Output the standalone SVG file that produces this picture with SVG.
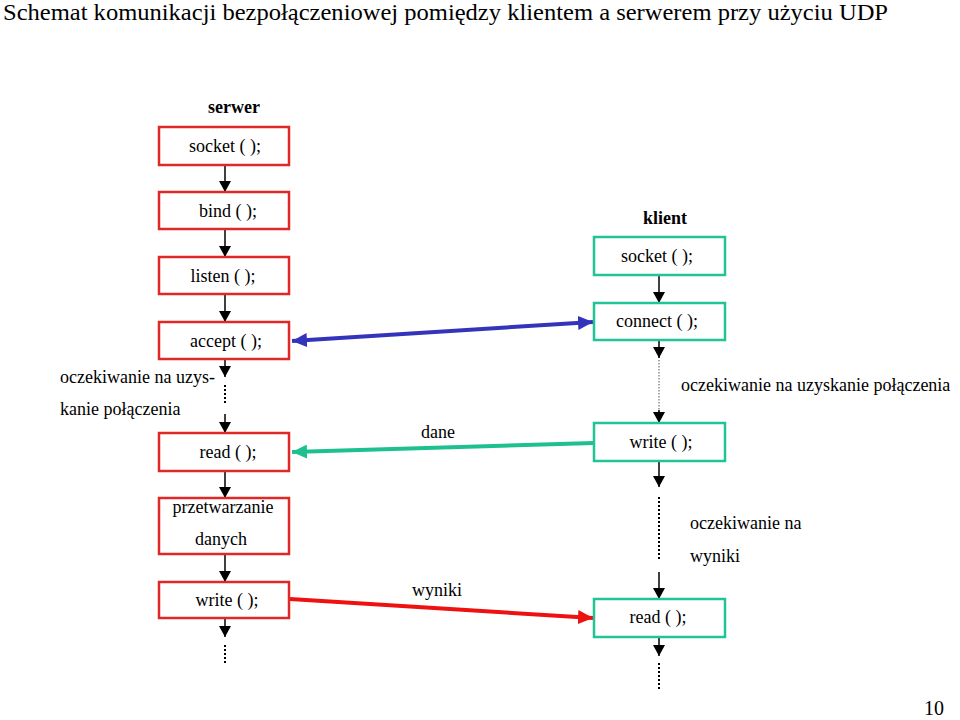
<svg xmlns="http://www.w3.org/2000/svg" width="960" height="720" viewBox="0 0 960 720" font-family="'Liberation Serif', 'DejaVu Serif', serif">
<defs>
<style>
text{font-family:'Liberation Serif','DejaVu Serif',serif;fill:#000}
.t{font-size:18px;text-anchor:middle}
.l{font-size:18px}
.h{font-size:18px;font-weight:bold;text-anchor:middle}
.sb{fill:#fff;stroke:#e02828;stroke-width:2.5}
.cb{fill:#fff;stroke:#22c495;stroke-width:2.5}
.f{stroke:#000;stroke-width:1.5;fill:none}
.d{stroke:#000;stroke-width:2;stroke-dasharray:2 2;fill:none}
.dt{stroke:#555;stroke-width:1;stroke-dasharray:1.5 1.5;fill:none}
</style>
<marker id="ab" markerUnits="userSpaceOnUse" markerWidth="12" markerHeight="12" refX="11" refY="6" orient="auto"><path d="M0,0 L11,6 L0,12 Z" fill="#000"/></marker>
<marker id="mblue" markerUnits="userSpaceOnUse" markerWidth="16" markerHeight="14" refX="15" refY="7" orient="auto-start-reverse"><path d="M0,0 L15,7 L0,14 Z" fill="#3333bb"/></marker>
<marker id="mgreen" markerUnits="userSpaceOnUse" markerWidth="16" markerHeight="14" refX="15" refY="7" orient="auto"><path d="M0,0 L15,7 L0,14 Z" fill="#1fc08f"/></marker>
<marker id="mred" markerUnits="userSpaceOnUse" markerWidth="16" markerHeight="14" refX="15" refY="7" orient="auto"><path d="M0,0 L15,7 L0,14 Z" fill="#ee1111"/></marker>
</defs>
<rect width="960" height="720" fill="#fff"/>
<text x="3" y="20" font-size="24" textLength="885" lengthAdjust="spacingAndGlyphs">Schemat komunikacji bezpołączeniowej pomiędzy klientem a serwerem przy użyciu UDP</text>
<text class="h" x="234" y="113">serwer</text>
<text class="h" x="665" y="224">klient</text>

<g id="connectors">
<line class="f" x1="225" y1="165" x2="225" y2="192" marker-end="url(#ab)"/>
<line class="f" x1="225" y1="229" x2="225" y2="257" marker-end="url(#ab)"/>
<line class="f" x1="225" y1="294" x2="225" y2="322" marker-end="url(#ab)"/>
<line class="f" x1="225" y1="359" x2="225" y2="377" marker-end="url(#ab)"/>
<line class="d" x1="225" y1="385" x2="225" y2="403"/>
<line class="f" x1="225" y1="414" x2="225" y2="433" marker-end="url(#ab)"/>
<line class="f" x1="225" y1="471" x2="225" y2="498" marker-end="url(#ab)"/>
<line class="f" x1="225" y1="554" x2="225" y2="582" marker-end="url(#ab)"/>
<line class="f" x1="225" y1="618" x2="225" y2="637" marker-end="url(#ab)"/>
<line class="d" x1="225" y1="645" x2="225" y2="663"/>

<line class="f" x1="659" y1="275" x2="659" y2="303" marker-end="url(#ab)"/>
<line class="f" x1="659" y1="340" x2="659" y2="358" marker-end="url(#ab)"/>
<line class="dt" x1="659" y1="360" x2="659" y2="412"/>
<line class="f" x1="659" y1="410" x2="659" y2="423" marker-end="url(#ab)"/>
<line class="f" x1="659" y1="461" x2="659" y2="487" marker-end="url(#ab)"/>
<line class="d" x1="659" y1="497" x2="659" y2="560"/>
<line class="f" x1="659" y1="572" x2="659" y2="599" marker-end="url(#ab)"/>
<line class="f" x1="659" y1="637" x2="659" y2="656" marker-end="url(#ab)"/>
<line class="d" x1="659" y1="663" x2="659" y2="690"/>

<line x1="292" y1="341" x2="593" y2="322" stroke="#3333bb" stroke-width="4" marker-start="url(#mblue)" marker-end="url(#mblue)"/>
<line x1="594" y1="443" x2="292" y2="452" stroke="#1fc08f" stroke-width="4" marker-end="url(#mgreen)"/>
<line x1="290" y1="599" x2="593" y2="618" stroke="#ee1111" stroke-width="4" marker-end="url(#mred)"/>
</g>

<g id="s-socket"><rect class="sb" x="159" y="127" width="130" height="38"/><text class="t" x="225" y="152">socket ( );</text></g>
<g id="s-bind"><rect class="sb" x="159" y="192" width="130" height="37"/><text class="t" x="228" y="217">bind ( );</text></g>
<g id="s-listen"><rect class="sb" x="159" y="257" width="130" height="37"/><text class="t" x="223" y="282">listen ( );</text></g>
<g id="s-accept"><rect class="sb" x="159" y="322" width="130" height="37"/><text class="t" x="226" y="347">accept ( );</text></g>
<g id="s-read"><rect class="sb" x="159" y="433" width="130" height="38"/><text class="t" x="228" y="458">read ( );</text></g>
<g id="s-proc"><rect class="sb" x="159" y="498" width="130" height="56"/><text class="t" x="223" y="513">przetwarzanie</text><text class="t" x="221" y="545">danych</text></g>
<g id="s-write"><rect class="sb" x="159" y="582" width="130" height="36"/><text class="t" x="227" y="606">write ( );</text></g>

<g id="c-socket"><rect class="cb" x="594" y="237" width="131" height="38"/><text class="t" x="657" y="262">socket ( );</text></g>
<g id="c-connect"><rect class="cb" x="594" y="303" width="131" height="37"/><text class="t" x="657" y="327">connect ( );</text></g>
<g id="c-write"><rect class="cb" x="594" y="423" width="131" height="38"/><text class="t" x="661" y="448">write ( );</text></g>
<g id="c-read"><rect class="cb" x="594" y="599" width="131" height="38"/><text class="t" x="658" y="623">read ( );</text></g>

<text class="l" x="60" y="383">oczekiwanie na uzys-</text>
<text class="l" x="60" y="415">kanie połączenia</text>
<text class="l" x="681" y="391">oczekiwanie na uzyskanie połączenia</text>
<text class="l" x="690" y="529">oczekiwanie na</text>
<text class="l" x="690" y="562">wyniki</text>
<text class="t" x="438" y="438">dane</text>
<text class="t" x="437" y="596">wyniki</text>
<text x="934" y="715" font-size="20" text-anchor="middle">10</text>
</svg>
